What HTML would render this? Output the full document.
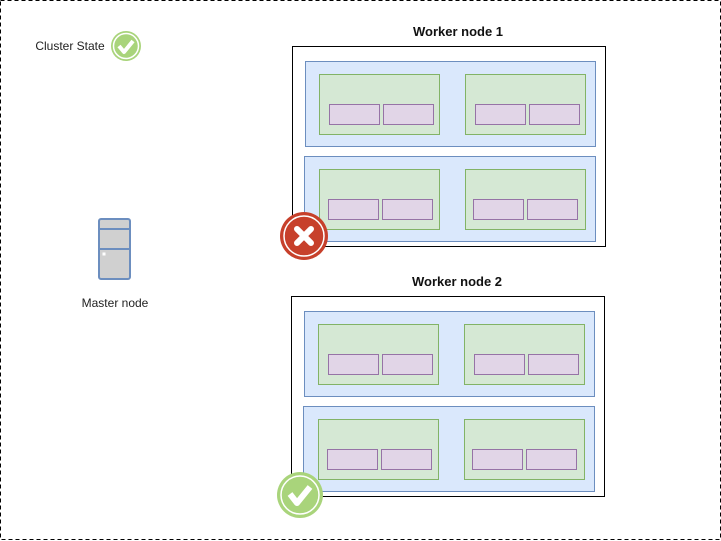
<!DOCTYPE html>
<html><head><meta charset="utf-8"><style>
html,body{margin:0;padding:0;background:#fff;}
svg{display:block;}
text{font-family:"Liberation Sans",Arial,sans-serif;}
</style></head><body>
<svg width="721" height="541" viewBox="0 0 721 541" xmlns="http://www.w3.org/2000/svg">
<rect x="0.5" y="0.5" width="720" height="539" fill="#fff" stroke="#000" stroke-dasharray="4 3"/>

<text x="70" y="50" font-size="12" text-anchor="middle" fill="#222">Cluster State</text>
<circle cx="126" cy="46" r="15" fill="#a9d47b"/>
<circle cx="126" cy="46" r="12.5" fill="none" stroke="#fff" stroke-width="1.5"/>
<path d="M119 46 L124 52 L133 41" fill="none" stroke="#fff" stroke-width="4" stroke-linejoin="round"/>

<g stroke="#6c8ebf" stroke-width="2" fill="#d0d0d0">
<rect x="99" y="219" width="31" height="60" rx="2"/>
<line x1="99" y1="229" x2="130" y2="229"/>
<line x1="99" y1="249" x2="130" y2="249"/>
</g>
<rect x="102.5" y="252.5" width="3" height="3" fill="#fff"/>
<text x="115" y="307" font-size="12" text-anchor="middle" fill="#222">Master node</text>

<g id="w1">
<text x="458" y="36" font-size="13" font-weight="bold" text-anchor="middle" fill="#111">Worker node 1</text>
<rect x="292.5" y="46.5" width="313" height="200" fill="#fff" stroke="#000"/>
<rect x="305.5" y="61.5" width="290" height="85" fill="#dae8fc" stroke="#6c8ebf"/>
<rect x="304.5" y="156.5" width="291" height="85" fill="#dae8fc" stroke="#6c8ebf"/>
<g fill="#d5e8d4" stroke="#82b366">
<rect x="319.5" y="74.5" width="120" height="60"/>
<rect x="465.5" y="74.5" width="120" height="60"/>
<rect x="319.5" y="169.5" width="120" height="60"/>
<rect x="465.5" y="169.5" width="120" height="60"/>
</g>
<g fill="#e1d5e7" stroke="#9673a6">
<rect x="329.5" y="104.5" width="50" height="20"/>
<rect x="383.5" y="104.5" width="50" height="20"/>
<rect x="475.5" y="104.5" width="50" height="20"/>
<rect x="529.5" y="104.5" width="50" height="20"/>
<rect x="328.5" y="199.5" width="50" height="20"/>
<rect x="382.5" y="199.5" width="50" height="20"/>
<rect x="473.5" y="199.5" width="50" height="20"/>
<rect x="527.5" y="199.5" width="50" height="20"/>
</g>
</g>
<use href="#w1" transform="translate(-1,250)"/>
<rect x="400" y="268" width="120" height="20" fill="#fff"/>
<text x="457" y="286" font-size="13" font-weight="bold" text-anchor="middle" fill="#111">Worker node 2</text>

<circle cx="304" cy="236" r="24" fill="#c7402b"/>
<circle cx="304" cy="236" r="20" fill="none" stroke="#fff" stroke-width="1.5"/>
<path d="M297 229 L311 243 M311 229 L297 243" stroke="#fff" stroke-width="6" stroke-linecap="round"/>

<circle cx="300" cy="495" r="23" fill="#a9d47b"/>
<circle cx="300" cy="495" r="19" fill="none" stroke="#fff" stroke-width="1.5"/>
<path d="M290 494 L297 503 L310 487" fill="none" stroke="#fff" stroke-width="6" stroke-linejoin="round"/>
</svg>
</body></html>
